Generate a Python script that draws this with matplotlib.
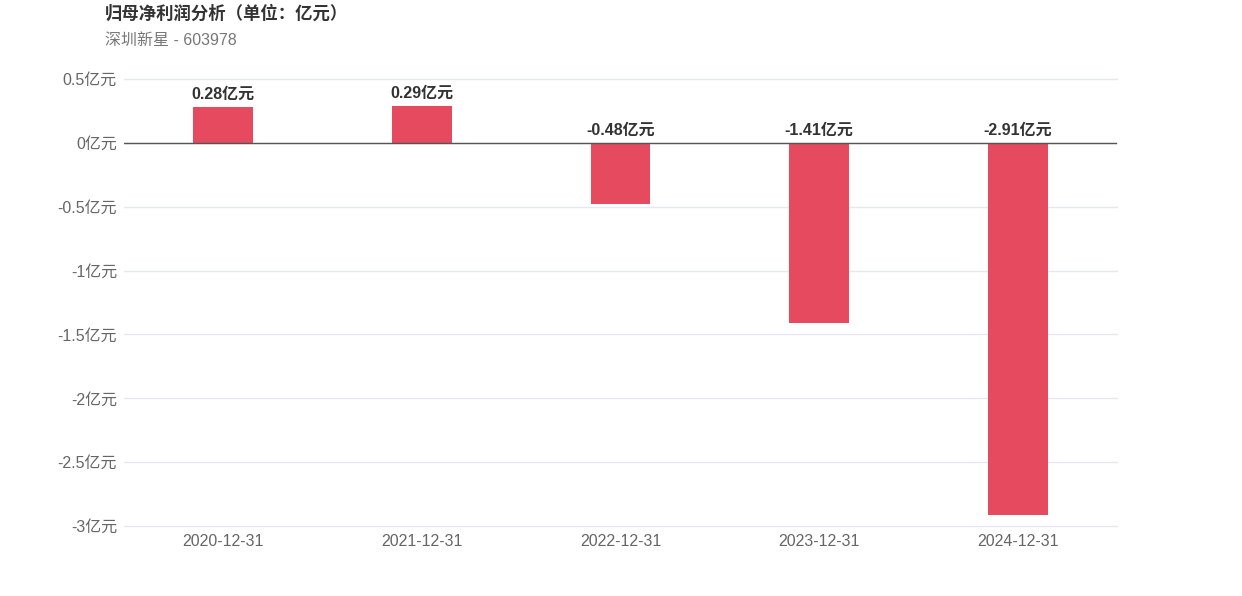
import matplotlib
matplotlib.use("Agg")
import matplotlib.pyplot as plt
from matplotlib.ticker import FixedLocator

plt.rcParams['font.family'] = ['Liberation Sans', 'Noto Sans CJK SC', 'DejaVu Sans']

# data
dates = ["2020-12-31", "2021-12-31", "2022-12-31", "2023-12-31", "2024-12-31"]
profit = [0.28, 0.29, -0.48, -1.41, -2.91]
y_ticks = [0.5, 0, -0.5, -1, -1.5, -2, -2.5, -3]
y_tick_labels = ["0.5亿元", "0亿元", "-0.5亿元", "-1亿元", "-1.5亿元", "-2亿元", "-2.5亿元", "-3亿元"]

BAR = "#E64A5E"
GRID = "#E6E8F0"
TXT = "#666666"

fig = plt.figure(figsize=(12.42, 5.96), dpi=100)
ax = fig.add_axes([0.0998, 0.1174, 0.7996, 0.75])

x = list(range(len(dates)))
ax.bar(x, profit, width=0.3, color=BAR, zorder=3)

ax.set_xlim(-0.5, len(dates) - 0.5)
ax.set_ylim(-3, 0.5)
ax.yaxis.set_major_locator(FixedLocator(y_ticks))
ax.set_yticklabels(y_tick_labels)
ax.set_xticks(x)
ax.set_xticklabels(dates)

for s in ax.spines.values():
    s.set_visible(False)
ax.grid(axis="y", color=GRID, linewidth=1, zorder=0)
for gl in ax.get_ygridlines():
    gl.set_clip_on(False)
ax.axhline(0, color="#555555", linewidth=1, zorder=4)
ax.tick_params(axis="both", length=0, labelsize=11.5, colors=TXT)
ax.tick_params(axis="y", pad=5)
ax.tick_params(axis="x", pad=6)

for xi, v in zip(x, profit):
    ax.annotate(f"{v:.2f}亿元", (xi, max(v, 0)), xytext=(0, 4),
                textcoords="offset points", ha="center", va="bottom",
                fontsize=11.5, fontweight="bold", color="#333333", zorder=5)

fig.text(105 / 1242, 1 - 13 / 596, "归母净利润分析（单位：亿元）", fontsize=12.5,
         fontweight="bold", color="#333333", ha="left", va="center")
fig.text(105 / 1242, 1 - 40 / 596, "深圳新星 - 603978", fontsize=11.5,
         color="#777777", ha="left", va="center")

fig.savefig("out.png", dpi=100, facecolor="white")
